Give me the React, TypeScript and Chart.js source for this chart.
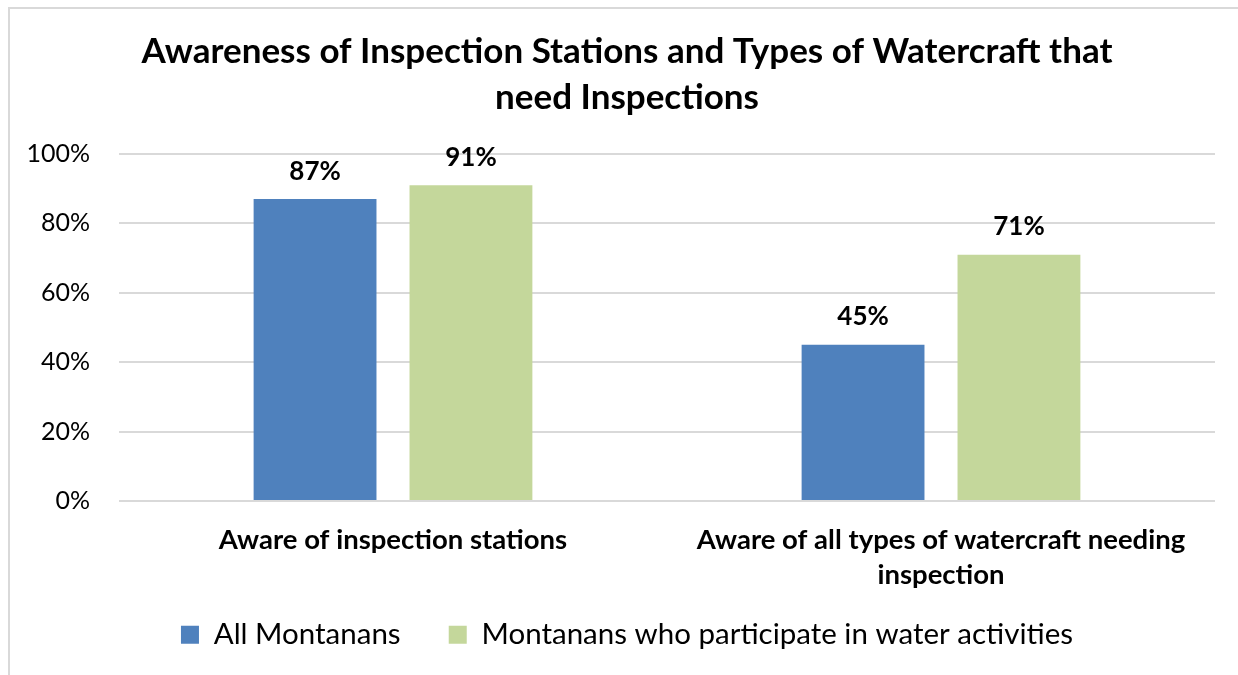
import React, { useEffect, useRef } from "react";
import { Chart, registerables } from "chart.js";

Chart.register(...registerables);

const categories: (string | string[])[] = [
  "Aware of inspection stations",
  ["Aware of all types of watercraft needing", "inspection"],
];
const allMontanans = [87, 45];
const waterActivities = [91, 71];
const seriesNames = ["All Montanans", "Montanans who participate in water activities"];
const titleLines = ["Awareness of Inspection Stations and Types of Watercraft that", "need Inspections"];

const FONT = "Lato, 'Open Sans', sans-serif";

const valueLabels = {
  id: "valueLabels",
  afterDatasetsDraw(chart: any) {
    const ctx = chart.ctx;
    ctx.save();
    ctx.font = `bold 26px ${FONT}`;
    ctx.fillStyle = "#000";
    ctx.textAlign = "center";
    ctx.textBaseline = "middle";
    chart.data.datasets.forEach((ds: any, i: number) => {
      const meta = chart.getDatasetMeta(i);
      meta.data.forEach((el: any, j: number) => {
        ctx.fillText(ds.data[j] + "%", el.x, el.y - 28);
      });
    });
    ctx.restore();
  },
};

export default function App() {
  const ref = useRef<HTMLCanvasElement>(null);
  useEffect(() => {
    if (!ref.current) return;
    const chart = new Chart(ref.current, {
      type: "bar",
      data: {
        labels: categories,
        datasets: [
          { label: seriesNames[0], data: allMontanans, backgroundColor: "#4f81bd", yAxisID: "y" },
          { label: seriesNames[1], data: waterActivities, backgroundColor: "#c4d79b", yAxisID: "y" },
        ],
      },
      options: {
        responsive: false,
        animation: false,
        layout: { padding: { left: 16, right: 0, top: 0, bottom: 15.5 } },
        categoryPercentage: 0.569,
        barPercentage: 0.788,
        plugins: {
          title: {
            display: true,
            text: titleLines,
            color: "#000",
            font: { family: FONT, size: 35, weight: "bold", lineHeight: 46 / 35 },
            padding: { top: 29, bottom: 33 },
          },
          legend: {
            position: "bottom",
            labels: {
              color: "#000",
              font: { family: FONT, size: 29.5 },
              boxWidth: 18,
              boxHeight: 18,
              padding: 26,
              generateLabels: (chart: any) => {
                const items = Chart.defaults.plugins.legend.labels.generateLabels(chart);
                return items.map((it: any, i: number) =>
                  i < items.length - 1 ? { ...it, text: it.text + "\u2003" } : it
                );
              },
            },
          },
          tooltip: { enabled: false },
        },
        scales: {
          x: {
            grid: { display: false, drawTicks: false },
            border: { display: false },
            ticks: {
              color: "#000",
              font: { family: FONT, size: 27.5, weight: "bold", lineHeight: 35 / 27.5 },
              padding: 21.5,
              maxRotation: 0,
              autoSkip: false,
            },
            afterFit: (s: any) => {
              s.height = 93;
            },
          },
          y: {
            min: 0,
            max: 100,
            grid: { color: "#d9d9d9", lineWidth: 2, drawTicks: false },
            border: { display: false },
            ticks: {
              stepSize: 20,
              color: "#000",
              font: { family: FONT, size: 25 },
              padding: 29,
              callback: (v: any) => v + "%",
            },
            afterFit: (s: any) => {
              s.width = 103;
            },
          },
          y2: {
            position: "right",
            display: true,
            grid: { display: false, drawTicks: false },
            border: { display: false },
            ticks: { display: false },
            afterFit: (s: any) => {
              s.width = 23;
            },
          },
        },
      },
      plugins: [valueLabels],
    });
    return () => chart.destroy();
  }, []);
  return (
    <div style={{ position: "fixed", left: 0, top: 0, width: 1238, height: 675, overflow: "hidden", background: "#fff" }}>
      <div
        style={{
          position: "absolute",
          left: 8,
          top: 7,
          width: 1400,
          height: 800,
          borderLeft: "2px solid #d9d9d9",
          borderTop: "2px solid #d9d9d9",
        }}
      />
      <canvas ref={ref} width={1238} height={675} style={{ position: "absolute", left: 0, top: 0 }} />
    </div>
  );
}
